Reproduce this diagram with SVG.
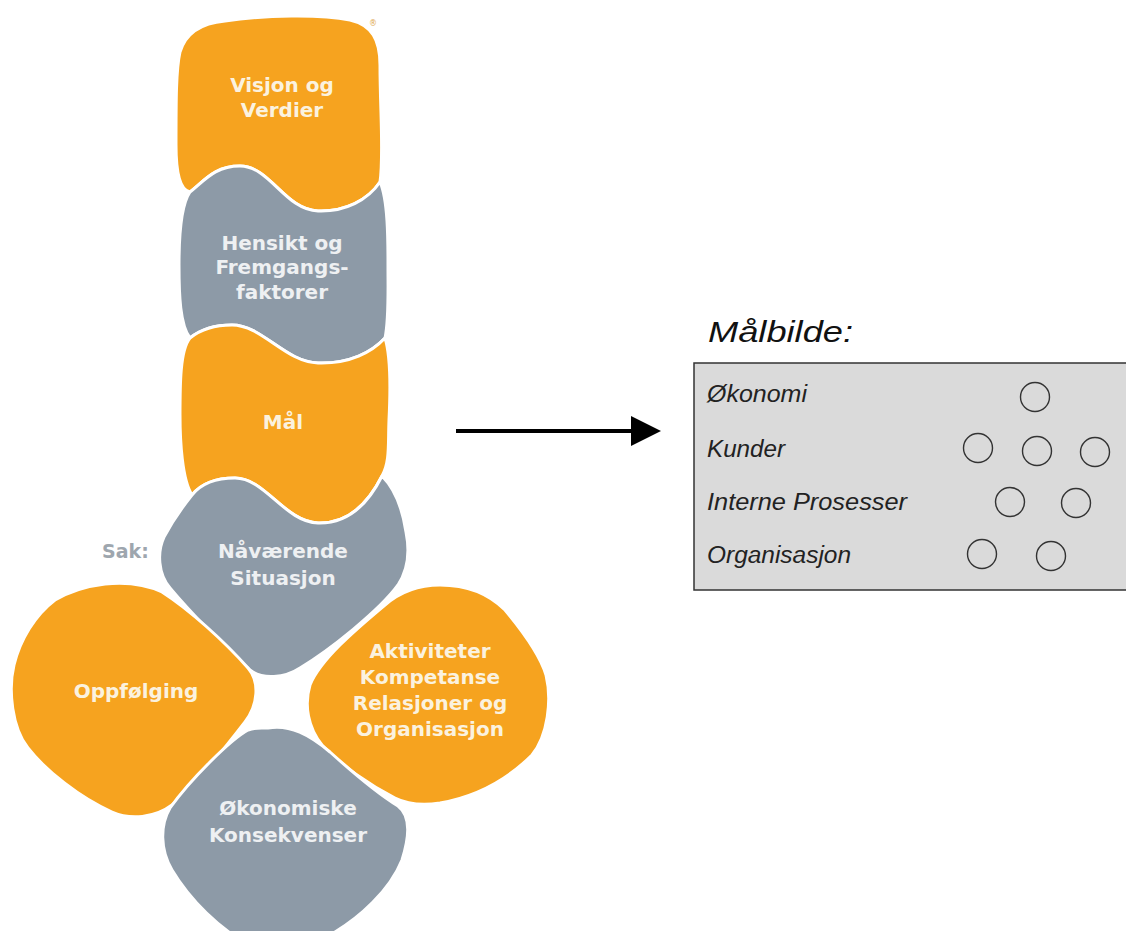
<svg xmlns="http://www.w3.org/2000/svg" width="1126" height="931" viewBox="0 0 1126 931">
<style>
.or{fill:#f6a31f;stroke:#fff;stroke-width:3;stroke-linejoin:round}
.gr{fill:#8d9aa7;stroke:#fff;stroke-width:3;stroke-linejoin:round}
.lb{font-family:"DejaVu Sans",sans-serif;font-weight:bold;font-size:20px;text-anchor:middle}
.lo{fill:#fbf2df}
.lg{fill:#eef0f2}
.rt{font-family:"Liberation Sans",Arial,sans-serif;font-style:italic;font-size:23px;fill:#222}
.ci{fill:none;stroke:#333;stroke-width:1.4}
</style>
<defs>
<marker id="ah" viewBox="0 0 30 30" markerWidth="30" markerHeight="30" refX="0" refY="15" orient="auto" markerUnits="userSpaceOnUse">
<path d="M0,0 L30,15 L0,30 Z" fill="#000"/>
</marker>
</defs>
<rect width="1126" height="931" fill="#fff"/>

<g id="visjon">
<path class="or" d="M225,21 C265,15 320,14 350,20 C372,25 380,40 380,65 C380,110 384,155 380,182 C368,200 345,212 318,211 C285,210 270,166 240,166 C215,166 205,180 190,192 C180,190 176,172 176,145 C176,100 176,70 180,52 C186,32 203,23 225,21 Z"/>
<text class="lb lo" x="282" y="92">Visjon og</text>
<text class="lb lo" x="282" y="117">Verdier</text>
<text x="373" y="26" font-family="DejaVu Sans,sans-serif" font-size="8" fill="#e0a850" text-anchor="middle">®</text>
</g>

<g id="hensikt">
<path class="gr" d="M190,192 C205,180 215,166 240,166 C270,166 285,210 318,211 C345,212 368,200 380,182 C388,200 388,240 388,265 C388,295 389,320 385,338 C372,352 350,364 318,363 C285,362 262,325 232,325 C212,325 200,330 190,338 C180,325 179,295 179,265 C179,235 181,205 190,192 Z"/>
<text class="lb lg" x="282" y="250">Hensikt og</text>
<text class="lb lg" x="282" y="274">Fremgangs-</text>
<text class="lb lg" x="282" y="299">faktorer</text>
</g>

<g id="maal">
<path class="or" d="M190,338 C200,330 212,325 232,325 C262,325 285,362 318,363 C350,364 372,352 385,338 C392,360 390,400 389,420 C388,445 390,462 382,476 C370,500 350,524 318,523 C285,522 265,478 235,478 C212,478 200,485 192,495 C182,480 180,440 180,415 C180,385 180,350 190,338 Z"/>
<text class="lb lo" x="283" y="429">Mål</text>
</g>

<g id="naavaerende">
<path class="gr" d="M192,495 C200,485 212,478 235,478 C265,478 285,522 318,523 C350,524 370,500 382,476 C396,490 403,512 406,532 C410,552 408,570 398,585 C380,610 330,650 300,668 C285,678 262,680 250,670 C225,648 190,612 170,588 C158,574 157,552 164,537 C172,522 184,505 192,495 Z"/>
<text class="lb lg" x="283" y="558">Nåværende</text>
<text class="lb lg" x="283" y="585">Situasjon</text>
</g>

<g id="sak">
<text x="102" y="558" font-family="DejaVu Sans,sans-serif" font-weight="bold" font-size="19" fill="#9ea6ae">Sak:</text>
</g>

<g id="oppfolging">
<path class="or" d="M105,584 C125,582 145,584 162,592 C190,610 225,642 248,668 C260,682 258,705 245,722 C225,748 195,785 172,805 C155,818 130,820 112,812 C80,798 45,770 28,748 C12,728 8,690 14,665 C20,640 35,615 55,600 C72,590 88,586 105,584 Z"/>
<text class="lb lo" x="136" y="698">Oppfølging</text>
</g>

<g id="aktiviteter">
<path class="or" d="M440,585 C470,585 490,595 505,610 C520,628 540,655 546,675 C552,700 548,735 532,755 C515,772 485,795 440,803 C420,806 405,803 395,798 C370,785 340,765 322,745 C308,728 304,705 310,685 C320,660 355,630 385,605 C400,592 420,585 440,585 Z"/>
<text class="lb lo" x="430" y="658">Aktiviteter</text>
<text class="lb lo" x="430" y="684">Kompetanse</text>
<text class="lb lo" x="430" y="710">Relasjoner og</text>
<text class="lb lo" x="430" y="736">Organisasjon</text>
</g>

<g id="okonomiske">
<path class="gr" d="M268,728 C290,724 310,735 330,752 C350,770 380,795 398,806 C410,815 410,835 402,860 C390,890 360,918 330,935 L250,945 C220,930 190,900 172,870 C160,850 160,825 170,808 C190,780 230,740 248,730 C255,727 262,728 268,728 Z"/>
<text class="lb lg" x="288" y="815">Økonomiske</text>
<text class="lb lg" x="288" y="842">Konsekvenser</text>
</g>

<g id="connectors">
<line x1="456" y1="431" x2="631" y2="431" stroke="#000" stroke-width="4" marker-end="url(#ah)"/>
</g>

<g id="maalbilde">
<text x="708" y="342" font-family="Liberation Sans,Arial,sans-serif" font-style="italic" font-size="29" fill="#111" textLength="145" lengthAdjust="spacingAndGlyphs">Målbilde:</text>
<rect x="694" y="363" width="445" height="227" fill="#dadada" stroke="#333" stroke-width="1.5"/>
<text class="rt" x="707" y="402" textLength="100" lengthAdjust="spacingAndGlyphs">Økonomi</text>
<text class="rt" x="707" y="457" textLength="78" lengthAdjust="spacingAndGlyphs">Kunder</text>
<text class="rt" x="707" y="510" textLength="200" lengthAdjust="spacingAndGlyphs">Interne Prosesser</text>
<text class="rt" x="707" y="563" textLength="144" lengthAdjust="spacingAndGlyphs">Organisasjon</text>
<circle class="ci" cx="1035" cy="397" r="14.5"/>
<circle class="ci" cx="978" cy="448" r="14.5"/>
<circle class="ci" cx="1037" cy="451" r="14.5"/>
<circle class="ci" cx="1095" cy="452" r="14.5"/>
<circle class="ci" cx="1010" cy="502" r="14.5"/>
<circle class="ci" cx="1076" cy="503" r="14.5"/>
<circle class="ci" cx="982" cy="554" r="14.5"/>
<circle class="ci" cx="1051" cy="556" r="14.5"/>
</g>
</svg>
